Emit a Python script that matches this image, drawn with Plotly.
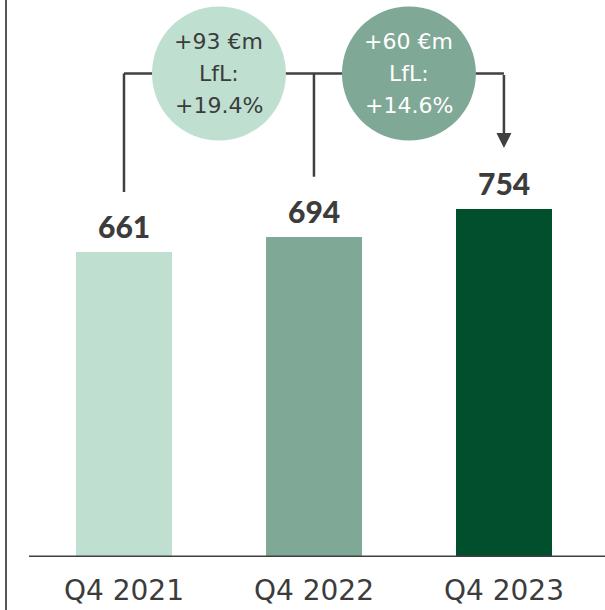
import plotly.graph_objects as go

# ---- data ----
categories = ["Q4 2021", "Q4 2022", "Q4 2023"]
values = [661, 694, 754]
bar_colors = ["#bfe0d0", "#7fa896", "#014f2c"]
bubble_texts = ["+93 €m<br>LfL:<br>+19.4%", "+60 €m<br>LfL:<br>+14.6%"]
bubble_colors = ["#bfe0d0", "#7fa896"]
bubble_text_colors = ["#3c3c3c", "#ffffff"]

# ---- style / layout constants ----
W, H = 605, 610
MB = 53                       # bottom margin (px)
PLOT_H = H - MB
Y_TOP = 1207                  # y-axis range top (data units)
X_RANGE = [-0.6526, 2.532]
PX_X = W / (X_RANGE[1] - X_RANGE[0])   # px per category unit
PX_Y = PLOT_H / Y_TOP                  # px per data unit
DARK = "#3c3c3c"
LINE = "#404040"

def ypx(px):   # px distance -> data units
    return px / PX_Y

def xpx(px):
    return px / PX_X

fig = go.Figure()
fig.add_trace(go.Bar(
    x=list(range(len(categories))), y=values,
    marker=dict(color=bar_colors, line=dict(width=0)),
    width=0.505, hoverinfo="skip", showlegend=False,
))

# bubble geometry derived from the axes
bubble_y = Y_TOP - ypx(73.5)
r_x, r_y = xpx(67), ypx(67)
label_off = ypx(60)

shapes = []
# connector lines
shapes.append(dict(type="line", x0=0, x1=0, y0=values[0] + label_off, y1=bubble_y,
                   line=dict(color=LINE, width=2.5)))
shapes.append(dict(type="line", x0=1, x1=1, y0=values[1] + label_off, y1=bubble_y,
                   line=dict(color=LINE, width=2.5)))
shapes.append(dict(type="line", x0=0, x1=2, y0=bubble_y, y1=bubble_y,
                   line=dict(color=LINE, width=2.5)))
# bubbles
for i, c in enumerate(bubble_colors):
    cx = i + 0.5
    shapes.append(dict(type="circle", x0=cx - r_x, x1=cx + r_x,
                       y0=bubble_y - r_y, y1=bubble_y + r_y,
                       fillcolor=c, line=dict(width=0)))
# baseline
shapes.append(dict(type="line", x0=-0.5, x1=X_RANGE[1] + 0.1, y0=0, y1=0,
                   line=dict(color=LINE, width=3), layer="above"))
# left border line
shapes.append(dict(type="line", xref="paper", yref="paper",
                   x0=6 / W, x1=6 / W, y0=-MB / PLOT_H, y1=1.01,
                   line=dict(color="#555555", width=2)))

annotations = []
LINE_STEP = 32  # px between text lines inside bubbles
for i, (t, tc) in enumerate(zip(bubble_texts, bubble_text_colors)):
    lines = t.split("<br>")
    n = len(lines)
    for k, ln in enumerate(lines):
        annotations.append(dict(x=i + 0.5, y=bubble_y, text=ln, showarrow=False,
                                font=dict(family="DejaVu Sans", size=22, color=tc),
                                align="center", xanchor="center", yanchor="middle",
                                yshift=((n - 1) / 2 - k) * LINE_STEP))
for i, v in enumerate(values):
    annotations.append(dict(x=i, y=v, text=f"{v}", showarrow=False,
                            font=dict(family="Lato", size=30, color=DARK, weight=900),
                            xanchor="center", yanchor="middle", yshift=26))
# arrow down to last bar
annotations.append(dict(x=2, y=values[2] + ypx(61), ax=2, ay=bubble_y,
                        axref="x", ayref="y", xref="x", yref="y", text="",
                        showarrow=True, arrowhead=2, arrowsize=1.2,
                        arrowwidth=2.5, arrowcolor=LINE, standoff=0))

fig.update_layout(
    template="none",
    width=W, height=H,
    margin=dict(l=0, r=0, t=0, b=MB, pad=0),
    paper_bgcolor="white", plot_bgcolor="white",
    shapes=shapes, annotations=annotations,
    xaxis=dict(range=X_RANGE, tickmode="array", tickvals=list(range(len(categories))),
               ticktext=categories, showgrid=False, zeroline=False, showline=False,
               ticks="", automargin=False,
               tickfont=dict(family="DejaVu Sans", size=28, color=DARK),
               ticklabelstandoff=14),
    yaxis=dict(range=[0, Y_TOP], visible=False, showgrid=False, zeroline=False,
               automargin=False),
    bargap=0,
)

fig.write_html("out.html", config={"displayModeBar": False, "staticPlot": True},
               post_script="document.body.style.margin='0';document.body.style.overflow='hidden';")
